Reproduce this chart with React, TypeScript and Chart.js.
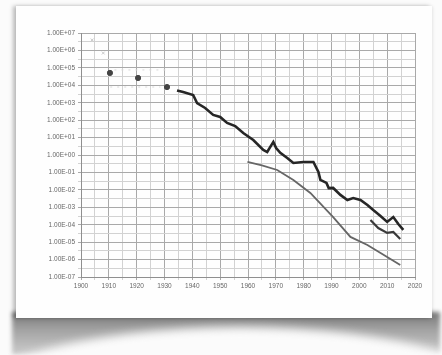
import React, { useEffect, useRef } from "react";
import { Chart, registerables } from "chart.js";

Chart.register(...registerables);

// x: year, y: log10 of value
const earlyYears = [1910.4, 1920.5, 1930.9];
const earlyLog = [4.71, 4.42, 3.9];

const faintYears = [1904, 1908];
const faintLog = [6.6, 5.85];

const rowAYears = [1912, 1931];
const rowALog = [4.88, 4.88];
const rowBYears = [1910.5, 1928.5];
const rowBLog = [3.9, 3.9];

const mainYears = [1934.5, 1936.7, 1940.3, 1941.7, 1944.6, 1947.5, 1950, 1952.5, 1955.4, 1958.3, 1961.9, 1965.5, 1966.9, 1969.1, 1970.1, 1971.6, 1974.1, 1976.3, 1979.9, 1983.5, 1985.3, 1986, 1988.2, 1989, 1990.6, 1993.2, 1995.7, 1997.8, 2000.4, 2002.9, 2005, 2007.6, 2010, 2012.2, 2014, 2015.8];
const mainLog = [3.7, 3.61, 3.44, 2.98, 2.7, 2.3, 2.18, 1.84, 1.66, 1.26, 0.86, 0.29, 0.17, 0.75, 0.4, 0.12, -0.17, -0.46, -0.4, -0.4, -0.97, -1.43, -1.6, -1.9, -1.89, -2.29, -2.58, -2.47, -2.58, -2.87, -3.16, -3.5, -3.84, -3.56, -3.96, -4.3];

const branchYears = [2004, 2006.8, 2010, 2012.2, 2014.7];
const branchLog = [-3.73, -4.19, -4.47, -4.42, -4.82];

const lowerYears = [1959.8, 1965, 1970.5, 1976.3, 1982.4, 1990.6, 1996.8, 2002.9, 2010, 2014.7];
const lowerLog = [-0.4, -0.6, -0.86, -1.43, -2.18, -3.56, -4.7, -5.16, -5.85, -6.31];

const yMinLog = -7;
const yMaxLog = 7;
const xMin = 1900;
const xMax = 2020;

const pts = (xs: number[], ys: number[]) => xs.map((x, i) => ({ x, y: ys[i] }));

const fmtExp = (v: number) => {
  const a = Math.abs(v);
  return "1.00E" + (v < 0 ? "-" : "+") + (a < 10 ? "0" : "") + a;
};

export default function App() {
  const ref = useRef<HTMLCanvasElement | null>(null);
  useEffect(() => {
    if (!ref.current) return;
    const chart = new Chart(ref.current, {
      type: "line",
      data: {
        datasets: [
          { data: pts(rowAYears, rowALog), borderColor: "#d8d8d8", borderWidth: 1, borderDash: [2, 5], pointRadius: 0 },
          { data: pts(rowBYears, rowBLog), borderColor: "#d8d8d8", borderWidth: 1, borderDash: [2, 5], pointRadius: 0 },
          { data: pts(faintYears, faintLog), showLine: false, pointRadius: 2, pointBackgroundColor: "#c8c8c8", pointBorderColor: "#c8c8c8", pointStyle: "crossRot" },
          { data: pts(earlyYears, earlyLog), showLine: false, pointRadius: 2.6, pointBackgroundColor: "#444", pointBorderColor: "#444" },
          { data: pts(lowerYears, lowerLog), borderColor: "#666", borderWidth: 1.8, pointRadius: 0, tension: 0 },
          { data: pts(branchYears, branchLog), borderColor: "#3a3a3a", borderWidth: 2.2, pointRadius: 0, tension: 0 },
          { data: pts(mainYears, mainLog), borderColor: "#262626", borderWidth: 2.6, pointRadius: 0, tension: 0 },
        ],
      },
      options: {
        animation: false,
        responsive: false,
        maintainAspectRatio: false,
        layout: { padding: { left: 38, top: 33, right: 27, bottom: 60 } },
        plugins: { legend: { display: false }, tooltip: { enabled: false } },
        scales: {
          x: {
            type: "linear",
            min: xMin,
            max: xMax,
            afterFit: (s: any) => { s.height = 18; },
            border: { color: "#8f8f8f" },
            grid: {
              color: (c: any) => (c.tick && c.tick.value % 10 === 0 ? "#a9a9a9" : "#d2d2d2"),
              tickLength: 3,
              lineWidth: 1,
            },
            ticks: {
              stepSize: 5,
              autoSkip: false,
              maxRotation: 0,
              color: "#666",
              font: { family: "Liberation Sans", size: 6.5 },
              padding: 2,
              callback: (v: any) => (Number(v) % 10 === 0 ? String(v) : ""),
            },
          },
          y: {
            type: "linear",
            min: yMinLog,
            max: yMaxLog,
            afterFit: (s: any) => { s.width = 43; },
            border: { color: "#8f8f8f" },
            grid: {
              color: (c: any) => (c.tick && Number.isInteger(c.tick.value) ? "#a9a9a9" : "#d2d2d2"),
              tickLength: 3,
              lineWidth: 1,
            },
            ticks: {
              stepSize: 0.5,
              autoSkip: false,
              color: "#666",
              font: { family: "Liberation Sans", size: 6.5 },
              padding: 3,
              callback: (v: any) => (Number.isInteger(Number(v)) ? fmtExp(Number(v)) : ""),
            },
          },
        },
      },
    });
    return () => chart.destroy();
  }, []);

  return (
    <div style={{ position: "fixed", left: 0, top: 0, width: 442, height: 355, background: "#fbfbfb", overflow: "hidden" }}>
      <div style={{ position: "absolute", left: 12, top: 312, width: 428, height: 43, background: "linear-gradient(#777, #a2a2a2 40%, #cdcdcd)", filter: "blur(2px)" }} />
      <div style={{ position: "absolute", left: -45, top: 327, width: 570, height: 170, borderRadius: "50%", background: "#fbfbfb", filter: "blur(5px)" }} />
      <div style={{ position: "absolute", left: 16, top: 6, width: 416, height: 312, background: "#fefefe", boxShadow: "-3px 0 4px rgba(0,0,0,0.25), 1px 0 3px rgba(0,0,0,0.08)" }} />
      <canvas ref={ref} width={442} height={355} style={{ position: "absolute", left: 0, top: 0, width: 442, height: 355, filter: "blur(0.7px)" }} />
    </div>
  );
}
